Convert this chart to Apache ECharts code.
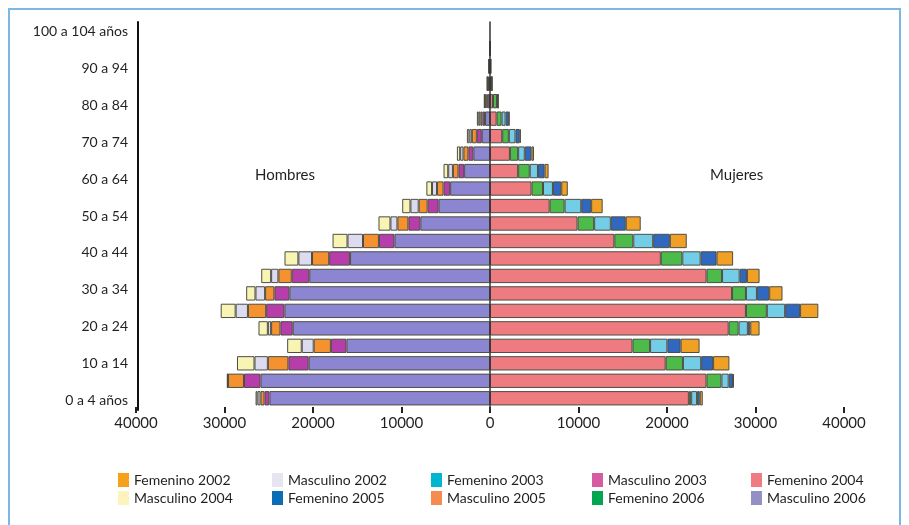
<!DOCTYPE html>
<html>
<head>
<meta charset="utf-8">
<script src="https://cdn.jsdelivr.net/npm/echarts@6/dist/echarts.min.js"></script>
<style>
html,body{margin:0;padding:0;background:#fff;}
#chart{width:909px;height:525px;}
</style>
</head>
<body>
<div id="chart"></div>
<script>
// Age groups (bottom to top)
const categories = ['0 a 4 años','5 a 9','10 a 14','15 a 19','20 a 24','25 a 29','30 a 34','35 a 39','40 a 44','45 a 49','50 a 54','55 a 59','60 a 64','65 a 69','70 a 74','75 a 79','80 a 84','85 a 89','90 a 94','95 a 99','100 a 104 años'];

// Female segments (right side)
const femenino2004 = [22470,24460,19850,16100,26970,28920,27350,24470,19300,14050,9890,6740,4690,3180,2250,1380,750,340,110,40,15];
const femenino2006 = [260,1690,1950,1990,1120,2360,1570,1750,2430,2140,1880,1690,1300,1310,930,750,560,450,50,20,5];
const femenino2003 = [670,820,2060,1950,1050,2070,1240,1990,2070,2250,1880,1880,1120,930,750,750,450,60,30,10,5];
const femenino2005 = [300,480,1350,1500,270,1690,1390,820,1800,1880,1690,1120,940,750,750,480,370,60,30,10,5];
const femenino2002 = [340,100,1840,2140,1050,2060,1500,1430,1870,1910,1690,1300,740,450,290,120,60,20,10,5,2];

// Male segments (left side, positive counts)
const masculino2006 = [24920,25930,20490,16220,22290,23230,22670,20420,15810,10790,7870,5810,4500,2920,1880,930,560,250,130,60,20];
const masculino2003 = [560,1870,2290,1760,1390,2060,1690,1980,2360,1760,1350,1240,750,640,560,560,280,150,70,20,5];
const masculino2005 = [450,1800,2320,1940,1050,2060,1050,1510,1940,1800,1240,1010,740,630,560,560,220,120,60,20,5];
const masculino2002 = [340,50,1510,1350,370,1390,1090,820,1540,1750,790,930,560,530,370,280,220,80,40,10,5];
const masculino2004 = [220,50,1980,1650,1060,1690,1050,1120,1570,1690,1350,930,640,530,370,280,200,70,40,10,5];

// x-axis range and step
const xMin = -40000, xMax = 40000, xStep = 10000;

const FONT = 'Lato, "Liberation Sans", sans-serif';
const TXT = '#231f20';

const barColors = {
  'Femenino 2002':'#F0A024','Masculino 2002':'#DCDBF0','Femenino 2003':'#74CDE6','Masculino 2003':'#B73DAA',
  'Femenino 2004':'#EE7B7F','Masculino 2004':'#F8F4B4','Femenino 2005':'#2F68BE','Masculino 2005':'#F5922F',
  'Femenino 2006':'#4DBB4A','Masculino 2006':'#8C86D2'
};
const legendColors = {
  'Femenino 2002':'#F7A11A','Masculino 2002':'#E7E5F2','Femenino 2003':'#00B5CF','Masculino 2003':'#D65BA0',
  'Femenino 2004':'#F07A82','Masculino 2004':'#FDF3BC','Femenino 2005':'#0A6DB5','Masculino 2005':'#F68B4F',
  'Femenino 2006':'#00A650','Masculino 2006':'#948FC5'
};

const femStack = [['Femenino 2004',femenino2004],['Femenino 2006',femenino2006],['Femenino 2003',femenino2003],['Femenino 2005',femenino2005],['Femenino 2002',femenino2002]];
const mascStack = [['Masculino 2006',masculino2006],['Masculino 2003',masculino2003],['Masculino 2005',masculino2005],['Masculino 2002',masculino2002],['Masculino 2004',masculino2004]];

function barSeries(name, data, stack, sign){
  return {
    name: name, type: 'bar', stack: stack, xAxisIndex: 0, yAxisIndex: 0,
    barCategoryGap: '18%', barGap: '-100%',
    data: data.map(v => sign * v),
    itemStyle: {color: barColors[name], borderColor: '#4d4d45', borderWidth: 1},
    emphasis: {disabled: true}
  };
}
const series = [];
femStack.forEach(s => series.push(barSeries(s[0], s[1], 'f', 1)));
mascStack.forEach(s => series.push(barSeries(s[0], s[1], 'm', -1)));

const legendCols = [
  ['Femenino 2002','Masculino 2004'],
  ['Masculino 2002','Femenino 2005'],
  ['Femenino 2003','Masculino 2005'],
  ['Masculino 2003','Femenino 2006'],
  ['Femenino 2004','Masculino 2006']
];
const legendLeft = [118, 272, 431, 592, 751];
const legends = legendCols.map((col, i) => ({
  orient: 'vertical', left: legendLeft[i], top: 473, padding: 0,
  itemWidth: 11, itemHeight: 14, itemGap: 4, icon: 'rect', selectedMode: false,
  textStyle: {fontSize: 14, color: TXT, fontFamily: FONT},
  data: col.map(n => ({name: n, itemStyle: {color: legendColors[n], borderWidth: 0}}))
}));

const GL = 136, GR = 65;
const option = {
  animation: false,
  backgroundColor: '#ffffff',
  grid: [
    {left: GL, right: GR, top: 40, bottom: 118},
    {left: GL, right: GR, top: 22, bottom: 115}
  ],
  xAxis: [
    {type: 'value', gridIndex: 0, min: xMin, max: xMax, interval: xStep,
     axisLine: {show: false}, splitLine: {show: false},
     axisTick: {show: true, length: 6, lineStyle: {color: '#222', width: 2}},
     axisLabel: {formatter: v => String(Math.abs(v)), fontSize: 15, color: TXT, fontFamily: FONT, margin: 9}},
    {type: 'value', gridIndex: 1, min: xMin, max: xMax, interval: xStep, show: false}
  ],
  yAxis: [
    {type: 'category', gridIndex: 0, data: categories, show: false},
    {type: 'category', gridIndex: 1, data: categories, position: 'left', offset: -2,
     axisLine: {show: true, onZero: false, lineStyle: {color: '#111', width: 2}},
     axisTick: {show: false}, splitLine: {show: false},
     axisLabel: {interval: 1, fontSize: 14, color: TXT, fontFamily: FONT, margin: 10}},
    {type: 'category', gridIndex: 1, data: categories, z: 10,
     axisLine: {show: true, onZero: true, lineStyle: {color: '#333', width: 1.5}},
     axisTick: {show: false}, axisLabel: {show: false}, splitLine: {show: false}}
  ],
  legend: legends,
  series: series,
  graphic: [
    {type: 'polyline', shape: {points: [[9,530],[9,9],[900,9],[900,530]]},
     style: {stroke: '#7BB8E6', lineWidth: 2, fill: null}, silent: true},
    {type: 'text', left: 255, top: 168, style: {text: 'Hombres', fontSize: 15, fill: TXT, fontFamily: FONT}},
    {type: 'text', left: 710, top: 168, style: {text: 'Mujeres', fontSize: 15, fill: TXT, fontFamily: FONT}}
  ]
};
const chart = echarts.init(document.getElementById('chart'), null, {renderer: 'canvas'});
chart.setOption(option);
</script>
</body>
</html>
